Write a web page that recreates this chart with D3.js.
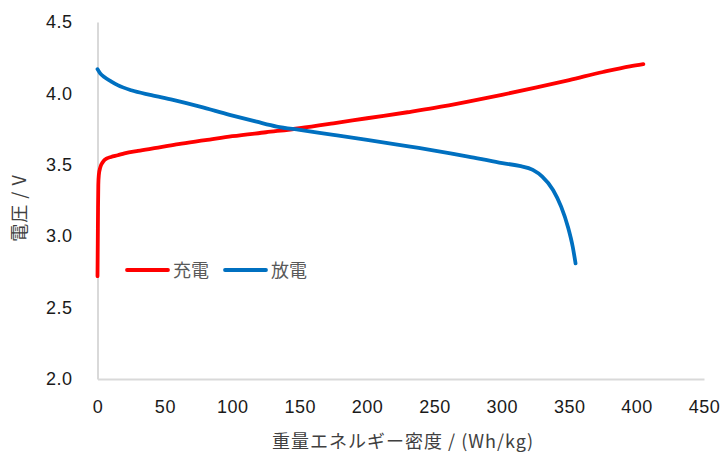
<!DOCTYPE html>
<html><head><meta charset="utf-8">
<script src="https://cdn.jsdelivr.net/npm/d3@7"></script>
<style>
html,body{margin:0;padding:0;background:#fff;}
svg{display:block;}
</style></head>
<body>
<svg id="chart" width="727" height="452"></svg>
<script>
// Data
const chargeX = [0, 0.2, 0.4, 0.6, 1, 2, 4, 7, 10, 15, 20, 30, 45, 60, 80, 100, 125, 150, 175, 200, 230, 250, 275, 300, 325, 350, 375, 395, 405];
const chargeY = [2.72, 2.95, 3.2, 3.36, 3.43, 3.48, 3.52, 3.545, 3.555, 3.567, 3.58, 3.598, 3.62, 3.645, 3.672, 3.70, 3.728, 3.756, 3.79, 3.826, 3.868, 3.898, 3.942, 3.99, 4.04, 4.093, 4.15, 4.19, 4.205];
const dischargeX = [0, 2, 5, 10, 15, 25, 40, 56, 76, 98, 118, 133, 150, 175, 200, 232, 250, 275, 298, 313, 323, 330, 338, 344, 349, 352.6, 354.7];
const dischargeY = [4.17, 4.14, 4.115, 4.085, 4.058, 4.022, 3.988, 3.954, 3.907, 3.85, 3.802, 3.768, 3.744, 3.71, 3.675, 3.627, 3.60, 3.558, 3.515, 3.492, 3.464, 3.417, 3.324, 3.207, 3.067, 2.926, 2.81];
const xTicks = [0, 50, 100, 150, 200, 250, 300, 350, 400, 450];
const yTicks = [2.0, 2.5, 3.0, 3.5, 4.0, 4.5];
const seriesNames = ["充電", "放電"];
const seriesColors = ["#ff0000", "#0070c0"];
const xTitle = "重量エネルギー密度 / (Wh/kg)";
const yTitle = "電圧 / V";

const svg = d3.select("#chart");
const x = d3.scaleLinear().domain([0, 450]).range([97.5, 704]);
const y = d3.scaleLinear().domain([2, 4.5]).range([379, 22]);
const font = "'Liberation Sans', Arial, 'Noto Sans CJK JP', sans-serif";
const cjk = "'Noto Sans CJK JP', 'Liberation Sans', sans-serif";

// axes
const xAxis = svg.append("g").attr("transform", `translate(0,${y(2)})`)
  .call(d3.axisBottom(x).tickValues(xTicks).tickSize(0).tickPadding(21).tickFormat(d3.format("d")));
const yAxis = svg.append("g").attr("transform", `translate(${x(0)},0)`)
  .call(d3.axisLeft(y).tickValues(yTicks).tickSize(0).tickPadding(25).tickFormat(d3.format(".1f")));
[xAxis, yAxis].forEach(a => {
  a.select(".domain").attr("stroke", "#d9d9d9").attr("stroke-width", 2);
  a.selectAll("text").attr("font-family", font).attr("font-size", 18)
    .attr("letter-spacing", "0.5px").attr("fill", "#1a1a1a");
});

// lines
const line = d3.line().x(d => x(d[0])).y(d => y(d[1])).curve(d3.curveMonotoneX);
const series = [d3.zip(chargeX, chargeY), d3.zip(dischargeX, dischargeY)];
series.forEach((s, i) => {
  svg.append("path").datum(s).attr("d", line)
    .attr("fill", "none").attr("stroke", seriesColors[i]).attr("stroke-width", 3.8)
    .attr("stroke-linejoin", "round").attr("stroke-linecap", "round");
});

// legend
const legX = [127, 225];
seriesNames.forEach((n, i) => {
  svg.append("line").attr("x1", legX[i]).attr("x2", legX[i] + 41).attr("y1", 270).attr("y2", 270)
    .attr("stroke", seriesColors[i]).attr("stroke-width", 3.8).attr("stroke-linecap", "round");
  svg.append("text").attr("x", legX[i] + 46).attr("y", 276.5).text(n)
    .attr("font-family", cjk).attr("font-size", 18).attr("fill", "#595959");
});

// titles
svg.append("text").attr("x", 403).attr("y", 448).attr("text-anchor", "middle")
  .attr("font-family", cjk).attr("font-size", 18).attr("letter-spacing", "1px")
  .attr("fill", "#404040").text(xTitle);
svg.append("text").attr("transform", "translate(26,208) rotate(-90)").attr("text-anchor", "middle")
  .attr("font-family", cjk).attr("font-size", 18).attr("letter-spacing", "1px")
  .attr("fill", "#404040").text(yTitle);
</script>
</body></html>
